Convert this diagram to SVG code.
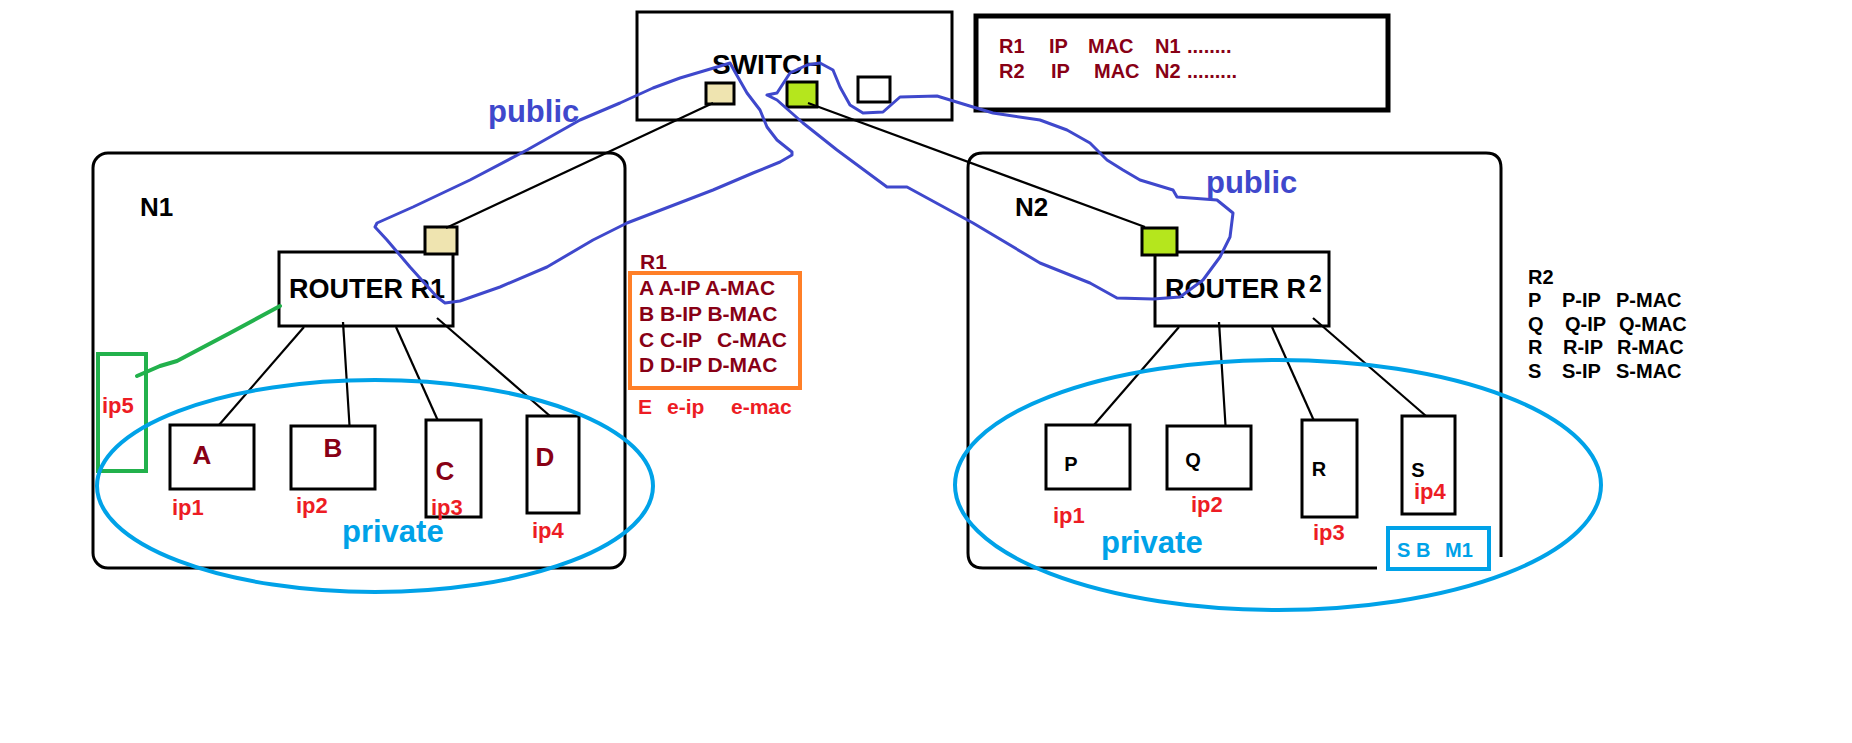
<svg xmlns="http://www.w3.org/2000/svg" width="1852" height="743" viewBox="0 0 1852 743">
<style>
text{font-family:"Liberation Sans",Arial,sans-serif;font-weight:bold}
.box{fill:#fff;stroke:#000;stroke-width:3}
.net{fill:none;stroke:#000;stroke-width:3}
.ln{stroke:#000;stroke-width:2.2;fill:none}
.scr{fill:none;stroke:#3F48CC;stroke-width:3;stroke-linejoin:round;stroke-linecap:round}
.ell{fill:none;stroke:#00A2E8;stroke-width:4}
.dr{fill:#880015}
.rd{fill:#ED1C24}
.lb{fill:#00A2E8}
.pb{fill:#3F48CC}
.bk{fill:#000}
</style>
<rect width="1852" height="743" fill="#fff"/>

<g id="n1">
<rect class="net" x="93" y="153" width="532" height="415" rx="15"/>
<text x="140" y="216" font-size="26" class="bk">N1</text>
</g>
<g id="n2">
<path class="net" d="M1377 568 H983 Q968 568 968 553 V168 Q968 153 983 153 H1486 Q1501 153 1501 168 V557"/>
<text x="1015" y="216" font-size="26" class="bk">N2</text>
</g>

<g id="switch">
<rect class="box" x="637" y="12" width="315" height="108"/>
<text x="712" y="74" font-size="28" class="bk">SWITCH</text>
<rect x="706" y="83" width="28" height="21" fill="#EFE4B0" stroke="#000" stroke-width="3"/>
<rect x="787" y="82" width="30" height="25" fill="#B5E61D" stroke="#000" stroke-width="3"/>
<rect x="858" y="77" width="32" height="25" fill="#fff" stroke="#000" stroke-width="3"/>
</g>

<g id="info">
<rect x="976" y="16" width="412" height="94" fill="#fff" stroke="#000" stroke-width="5"/>
<text font-size="20" class="dr" y="53"><tspan x="999">R1</tspan><tspan x="1049">IP</tspan><tspan x="1088">MAC</tspan><tspan x="1155">N1</tspan><tspan x="1187">........</tspan></text>
<text font-size="20" class="dr" y="78"><tspan x="999">R2</tspan><tspan x="1051">IP</tspan><tspan x="1094">MAC</tspan><tspan x="1155">N2</tspan><tspan x="1187">.........</tspan></text>
</g>

<g id="router-r1">
<rect class="box" x="279" y="252" width="174" height="74"/>
<text x="289" y="298" font-size="27" class="bk">ROUTER R1</text>
<rect x="425" y="227" width="32" height="27" fill="#EFE4B0" stroke="#000" stroke-width="3"/>
</g>
<g id="router-r2">
<rect class="box" x="1155" y="252" width="174" height="74"/>
<text x="1165" y="298" font-size="27" class="bk">ROUTER R</text>
<text x="1309" y="292" font-size="23" class="bk">2</text>
<rect x="1142" y="228" width="35" height="27" fill="#B5E61D" stroke="#000" stroke-width="3"/>
</g>

<g id="connectors">
<line class="ln" x1="713" y1="103" x2="446" y2="228"/>
<line class="ln" x1="808" y1="103" x2="1145" y2="227"/>
<line class="ln" x1="304" y1="327" x2="219" y2="425"/>
<line class="ln" x1="343" y1="322" x2="350" y2="433"/>
<line class="ln" x1="396" y1="327" x2="443" y2="432"/>
<line class="ln" x1="437" y1="318" x2="550" y2="416"/>
<line class="ln" x1="1179" y1="327" x2="1094" y2="425"/>
<line class="ln" x1="1219" y1="322" x2="1226" y2="433"/>
<line class="ln" x1="1272" y1="327" x2="1319" y2="432"/>
<line class="ln" x1="1313" y1="318" x2="1426" y2="416"/>
<polyline points="280,306 230,333 177,361 160,366 137,376" fill="none" stroke="#22B14C" stroke-width="4" stroke-linecap="round" stroke-linejoin="round"/>
</g>

<g id="host-a"><rect class="box" x="170" y="425" width="84" height="64"/><text x="202" y="464" font-size="26" class="dr" text-anchor="middle">A</text><text x="172" y="515" font-size="22" class="rd">ip1</text></g>
<g id="host-b"><rect class="box" x="291" y="426" width="84" height="63"/><text x="333" y="457" font-size="26" class="dr" text-anchor="middle">B</text><text x="296" y="513" font-size="22" class="rd">ip2</text></g>
<g id="host-c"><rect class="box" x="426" y="420" width="55" height="97"/><text x="445" y="480" font-size="26" class="dr" text-anchor="middle">C</text><text x="431" y="515" font-size="22" class="rd">ip3</text></g>
<g id="host-d"><rect class="box" x="527" y="416" width="52" height="97"/><text x="545" y="466" font-size="26" class="dr" text-anchor="middle">D</text><text x="532" y="538" font-size="22" class="rd">ip4</text></g>
<g id="host-e"><rect x="98" y="354" width="48" height="117" fill="none" stroke="#22B14C" stroke-width="4"/><text x="102" y="413" font-size="22" class="rd">ip5</text></g>

<g id="host-p"><rect class="box" x="1046" y="425" width="84" height="64"/><text x="1071" y="471" font-size="20" class="bk" text-anchor="middle">P</text><text x="1053" y="523" font-size="22" class="rd">ip1</text></g>
<g id="host-q"><rect class="box" x="1167" y="426" width="84" height="63"/><text x="1193" y="467" font-size="20" class="bk" text-anchor="middle">Q</text><text x="1191" y="512" font-size="22" class="rd">ip2</text></g>
<g id="host-r"><rect class="box" x="1302" y="420" width="55" height="97"/><text x="1319" y="476" font-size="20" class="bk" text-anchor="middle">R</text><text x="1313" y="540" font-size="22" class="rd">ip3</text></g>
<g id="host-s"><rect class="box" x="1402" y="416" width="53" height="98"/><text x="1418" y="477" font-size="20" class="bk" text-anchor="middle">S</text><text x="1414" y="499" font-size="22" class="rd">ip4</text></g>

<g id="sbm1">
<rect x="1388" y="528" width="101" height="41" fill="none" stroke="#00A2E8" stroke-width="4"/>
<text y="557" font-size="20" class="lb"><tspan x="1397">S B</tspan><tspan x="1445">M1</tspan></text>
</g>

<g id="private-n1">
<ellipse class="ell" cx="375" cy="486" rx="278" ry="106"/>
<text x="342" y="542" font-size="31" class="lb">private</text>
</g>
<g id="private-n2">
<ellipse class="ell" cx="1278" cy="485" rx="323" ry="125"/>
<text x="1101" y="553" font-size="31" class="lb">private</text>
</g>

<g id="table-r1">
<text x="640" y="269" font-size="21" class="dr">R1</text>
<rect x="630" y="273" width="170" height="115" fill="none" stroke="#FF7F27" stroke-width="4"/>
<text x="639" y="295" font-size="21" class="dr">A A-IP A-MAC</text>
<text x="639" y="321" font-size="21" class="dr">B B-IP B-MAC</text>
<text y="347" font-size="21" class="dr"><tspan x="639">C C-IP</tspan><tspan x="717">C-MAC</tspan></text>
<text x="639" y="372" font-size="21" class="dr">D D-IP D-MAC</text>
<text y="414" font-size="21" class="rd"><tspan x="638">E</tspan><tspan x="667">e-ip</tspan><tspan x="731">e-mac</tspan></text>
</g>

<g id="table-r2">
<text x="1528" y="284" font-size="20" class="bk">R2</text>
<text y="307" font-size="20" class="bk"><tspan x="1528">P</tspan><tspan x="1562">P-IP</tspan><tspan x="1616">P-MAC</tspan></text>
<text y="331" font-size="20" class="bk"><tspan x="1528">Q</tspan><tspan x="1565">Q-IP</tspan><tspan x="1619">Q-MAC</tspan></text>
<text y="354" font-size="20" class="bk"><tspan x="1528">R</tspan><tspan x="1563">R-IP</tspan><tspan x="1617">R-MAC</tspan></text>
<text y="378" font-size="20" class="bk"><tspan x="1528">S</tspan><tspan x="1562">S-IP</tspan><tspan x="1616">S-MAC</tspan></text>
</g>

<g id="public-n1">
<polyline class="scr" points="730,63 717,67 680,78 653,88 620,103 580,120 527,150 470,180 413,207 377,223 375,227 387,240 410,267 437,297 445,303 460,301 500,287 547,267 593,240 627,223 687,200 713,190 753,173 780,162 792,155 792,152 777,140 767,127 760,110 747,93 735,72 730,63"/>
<text x="488" y="122" font-size="31" class="pb">public</text>
</g>
<g id="public-n2">
<polyline class="scr" points="767,95 777,93 790,73 807,65 820,63 833,70 840,87 850,105 863,113 883,112 900,97 937,96 973,107 993,113 1040,120 1067,130 1090,143 1107,160 1123,170 1140,180 1173,190 1177,197 1217,200 1233,213 1230,237 1220,257 1203,280 1180,297 1153,299 1117,298 1090,283 1040,263 973,223 907,187 887,187 837,150 803,123 777,100 767,95"/>
<text x="1206" y="193" font-size="31" class="pb">public</text>
</g>
</svg>
